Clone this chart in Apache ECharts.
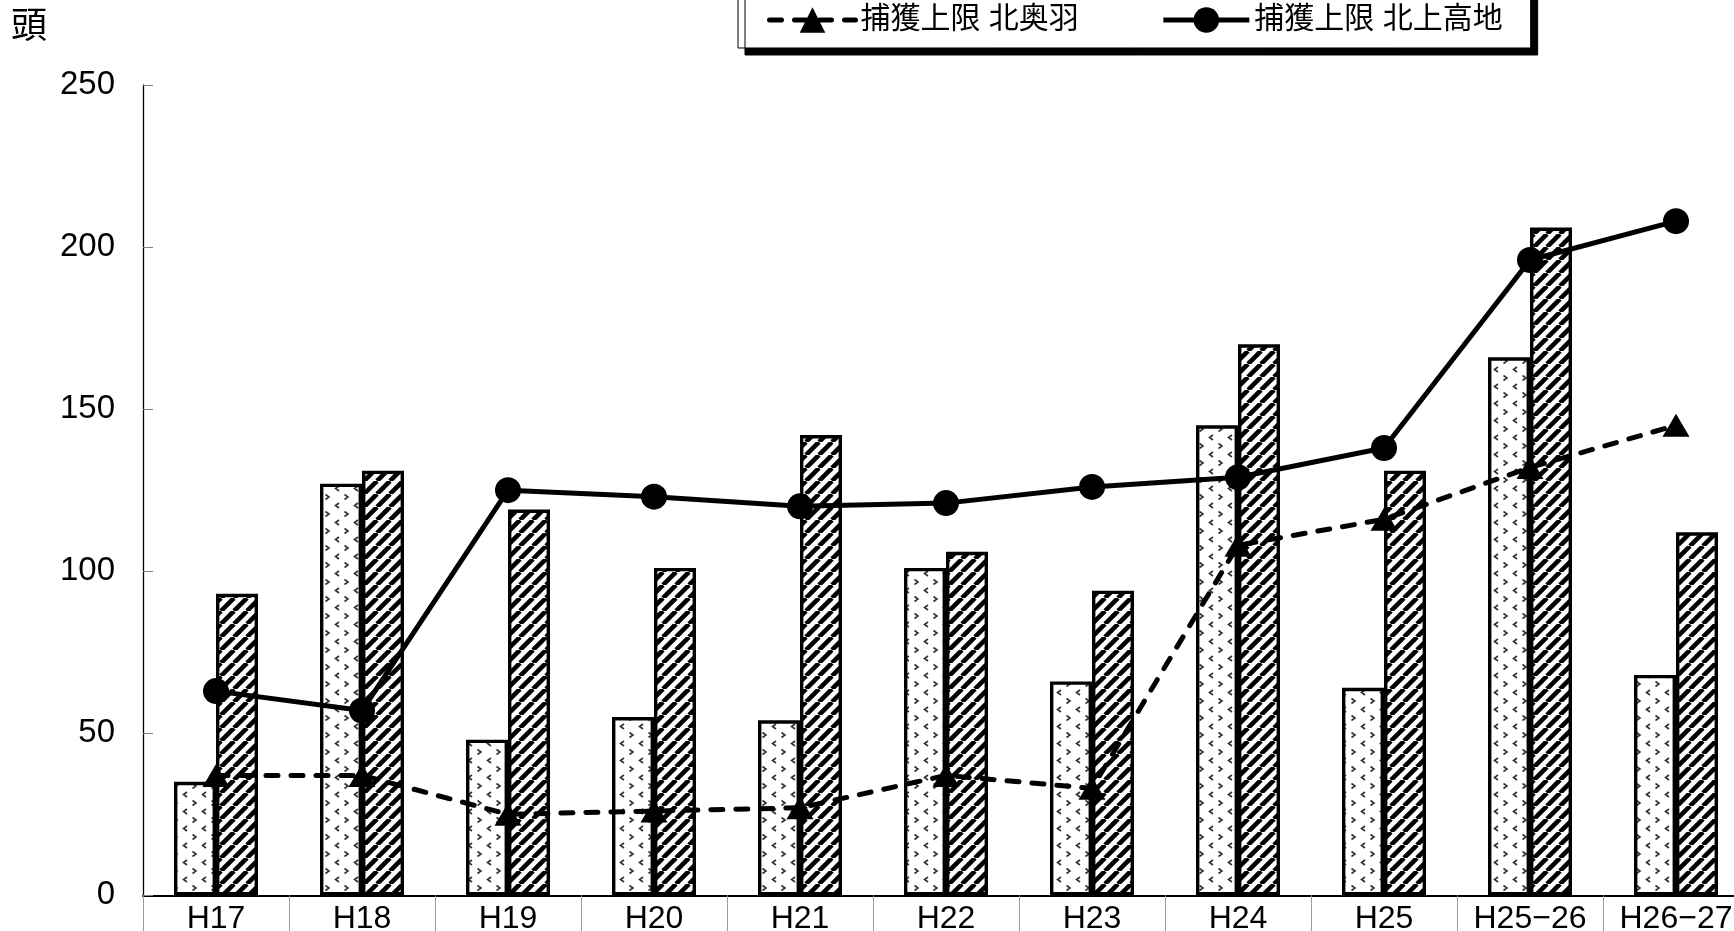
<!DOCTYPE html>
<html>
<head>
<meta charset="utf-8">
<title>捕獲数と捕獲上限</title>
<script src="https://cdn.jsdelivr.net/npm/echarts@6/dist/echarts.min.js"></script>
<style>
  html, body { margin: 0; padding: 0; background: #fff; }
  #chart { width: 1734px; height: 931px; }
</style>
</head>
<body>
<div id="chart"></div>
<script>
// Fiscal years on the category axis
const categories = ['H17', 'H18', 'H19', 'H20', 'H21', 'H22', 'H23', 'H24', 'H25', 'H25−26', 'H26−27'];

// Bar series (heads taken per year)
const catchKitaOu = [35, 127, 48, 55, 54, 101, 66, 145, 64, 166, 68];
const catchKitakami = [93, 131, 119, 101, 142, 106, 94, 170, 131, 206, 112];

// Line series (upper capture limits)
const limitKitaOu = [37, 37, 25, 26, 27, 37, 33, 108, 116, 132, 145];
const limitKitakami = [63, 57, 125, 123, 120, 121, 126, 129, 138, 196, 208];

// Value axis
const yMin = 0, yMax = 250, yStep = 50;

const latin = "'Liberation Sans', 'Noto Sans CJK JP', sans-serif";

// Diagonal hatch fill ("/" stripes)
function hatchFill() {
  const s = 13;
  const c = document.createElement('canvas');
  c.width = s; c.height = s;
  const g = c.getContext('2d');
  g.fillStyle = '#fff';
  g.fillRect(0, 0, s, s);
  g.strokeStyle = '#000';
  g.lineWidth = 4.6;
  g.beginPath();
  for (const k of [-s, 0, s]) {
    g.moveTo(k, s);
    g.lineTo(k + s, 0);
  }
  g.stroke();
  return { image: c, repeat: 'repeat' };
}

// Sparse chevron fill ("> <" marks on white)
function chevronFill() {
  const w = 19, h = 17;
  const c = document.createElement('canvas');
  c.width = w; c.height = h;
  const g = c.getContext('2d');
  g.fillStyle = '#fff';
  g.fillRect(0, 0, w, h);
  g.strokeStyle = '#333';
  g.lineWidth = 1.6;
  g.beginPath();
  // ">"
  g.moveTo(2.5, 1.5); g.lineTo(6, 4); g.lineTo(2.5, 6.5);
  // "<"
  g.moveTo(16, 10); g.lineTo(12.5, 12.5); g.lineTo(16, 15);
  g.stroke();
  return { image: c, repeat: 'repeat' };
}

const chart = echarts.init(document.getElementById('chart'), null, { renderer: 'canvas' });

chart.setOption({
  animation: false,
  backgroundColor: '#fff',
  title: {
    text: '頭',
    left: 11,
    top: 6,
    padding: 0,
    textStyle: { fontFamily: "'Noto Sans CJK JP', sans-serif", fontSize: 36, fontWeight: 'normal', color: '#000' }
  },
  legend: {
    data: [
      { name: '捕獲上限 北奥羽', lineStyle: { width: 5 } },
      { name: '捕獲上限 北上高地', lineStyle: { width: 5 } }
    ],
    left: 738,
    top: -20,
    padding: [25, 28, 13, 29],
    itemWidth: 86,
    itemHeight: 32,
    itemGap: 82,
    backgroundColor: '#fff',
    borderColor: '#000',
    borderWidth: 1,
    shadowColor: '#000',
    shadowBlur: 0,
    shadowOffsetX: 7,
    shadowOffsetY: 7,
    textStyle: { fontFamily: latin, fontSize: 30, color: '#000' }
  },
  grid: {
    left: 143,
    width: 1606,
    top: 85,
    bottom: 35.7,
    containLabel: false,
    outerBoundsMode: 'none'
  },
  xAxis: {
    type: 'category',
    data: categories,
    boundaryGap: true,
    axisLine: { lineStyle: { color: '#000', width: 2 } },
    axisTick: { show: true, inside: false, length: 40, lineStyle: { color: '#999', width: 1 } },
    axisLabel: { fontFamily: latin, fontSize: 32, color: '#000', margin: 8, interval: 0 },
    splitLine: { show: false }
  },
  yAxis: {
    type: 'value',
    min: yMin,
    max: yMax,
    interval: yStep,
    axisLine: { show: true, lineStyle: { color: '#000', width: 1.3 } },
    axisTick: { show: true, inside: true, length: 10, lineStyle: { color: '#808080', width: 1 } },
    axisLabel: { fontFamily: latin, fontSize: 33, color: '#000', margin: 28 },
    splitLine: { show: false }
  },
  series: [
    {
      name: '捕獲数 北奥羽',
      type: 'bar',
      data: catchKitaOu,
      barWidth: 42,
      barGap: '0%',
      itemStyle: { color: chevronFill(), borderColor: '#000', borderWidth: 3.4 }
    },
    {
      name: '捕獲数 北上高地',
      type: 'bar',
      data: catchKitakami,
      barWidth: 42,
      barGap: '0%',
      itemStyle: { color: hatchFill(), borderColor: '#000', borderWidth: 3.4 }
    },
    {
      name: '捕獲上限 北奥羽',
      type: 'line',
      data: limitKitaOu,
      symbol: 'triangle',
      symbolSize: [27, 23],
      itemStyle: { color: '#000' },
      lineStyle: { color: '#000', width: 5, type: [12, 13], cap: 'round' },
      z: 3
    },
    {
      name: '捕獲上限 北上高地',
      type: 'line',
      data: limitKitakami,
      symbol: 'circle',
      symbolSize: 26,
      itemStyle: { color: '#000' },
      lineStyle: { color: '#000', width: 5, type: 'solid' },
      z: 4
    }
  ]
});
</script>
</body>
</html>
